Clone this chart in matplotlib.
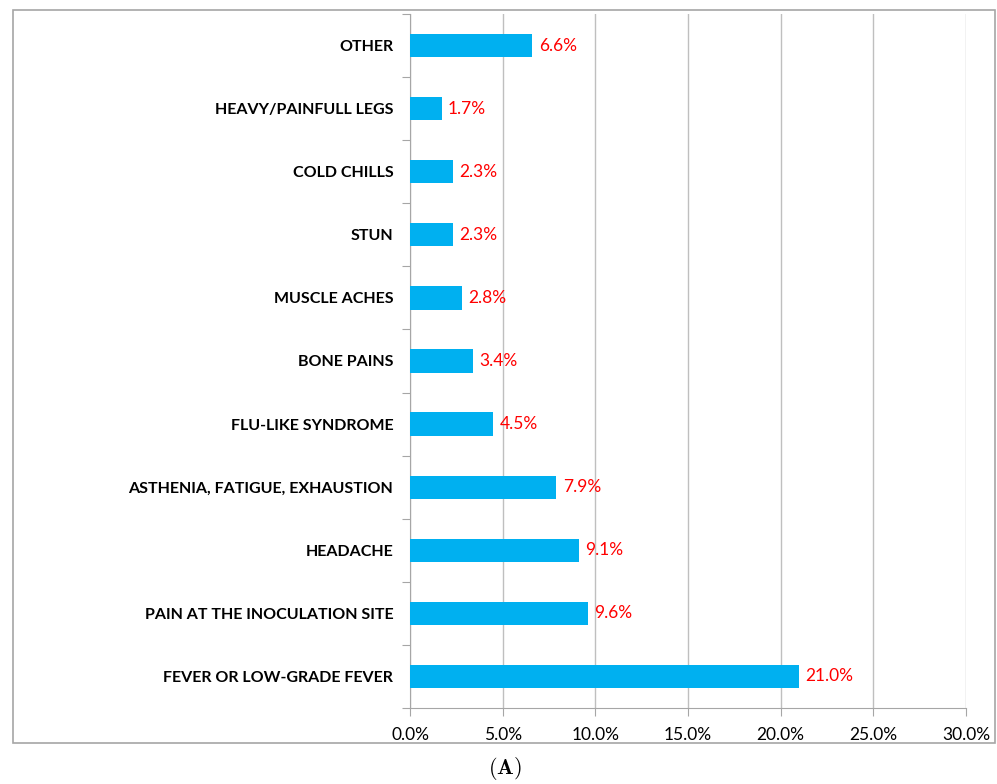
import matplotlib
matplotlib.use("Agg")
import matplotlib.pyplot as plt
from matplotlib.patches import Rectangle
from matplotlib.ticker import FuncFormatter

# Data (bottom to top as drawn)
categories = [
    "FEVER OR LOW-GRADE FEVER",
    "PAIN AT THE INOCULATION SITE",
    "HEADACHE",
    "ASTHENIA, FATIGUE, EXHAUSTION",
    "FLU-LIKE SYNDROME",
    "BONE PAINS",
    "MUSCLE ACHES",
    "STUN",
    "COLD CHILLS",
    "HEAVY/PAINFULL LEGS",
    "OTHER",
]
values = [21.0, 9.6, 9.1, 7.9, 4.5, 3.4, 2.8, 2.3, 2.3, 1.7, 6.6]
x_ticks = [0, 5, 10, 15, 20, 25, 30]

plt.rcParams["font.family"] = ["Lato", "DejaVu Sans"]
plt.rcParams["mathtext.fontset"] = "cm"

W, H = 997, 784
fig = plt.figure(figsize=(W / 100, H / 100), dpi=100)
ax = fig.add_axes([410 / W, 1 - 708 / H, (966 - 410) / W, (708 - 14) / H])

pos = list(range(len(categories)))
ax.barh(pos, values, height=0.37, color="#00B0F0", zorder=3)
for p, v in zip(pos, values):
    ax.text(v + 0.35, p, f"{v:.1f}%", color="#FF0000", va="center", ha="left",
            fontsize=12.5, zorder=4)

ax.set_xlim(0, 30)
ax.set_ylim(-0.5, len(categories) - 0.5)
ax.set_xticks(x_ticks)
ax.xaxis.set_major_formatter(FuncFormatter(lambda x, _: f"{x:.1f}%"))
ax.set_yticks([i - 0.5 for i in range(len(categories) + 1)])
ax.set_yticklabels([])
ax.set_yticks(pos, minor=True)
ax.set_yticklabels(categories, minor=True, fontweight="bold", fontsize=11.5)
ax.tick_params(axis="y", which="minor", length=0, pad=12)
ax.tick_params(axis="y", which="major", length=6, color="#A6A6A6")
ax.tick_params(axis="x", length=6, color="#A6A6A6", labelsize=12.5, pad=8)

ax.grid(axis="x", color="#BFBFBF", linewidth=1, zorder=0)
for side in ["top", "right"]:
    ax.spines[side].set_visible(False)
for side in ["left", "bottom"]:
    ax.spines[side].set_color("#A6A6A6")

# outer chart frame
fig.patches.append(Rectangle((13 / W, 1 - 743 / H), (995 - 13) / W, (743 - 10) / H,
                             transform=fig.transFigure, fill=False,
                             edgecolor="#A6A6A6", linewidth=1.2))

fig.text(505 / W, 1 - 769 / H, r"$(\mathbf{A})$", fontsize=16,
         ha="center", va="center")

fig.savefig("out.png", dpi=100)
